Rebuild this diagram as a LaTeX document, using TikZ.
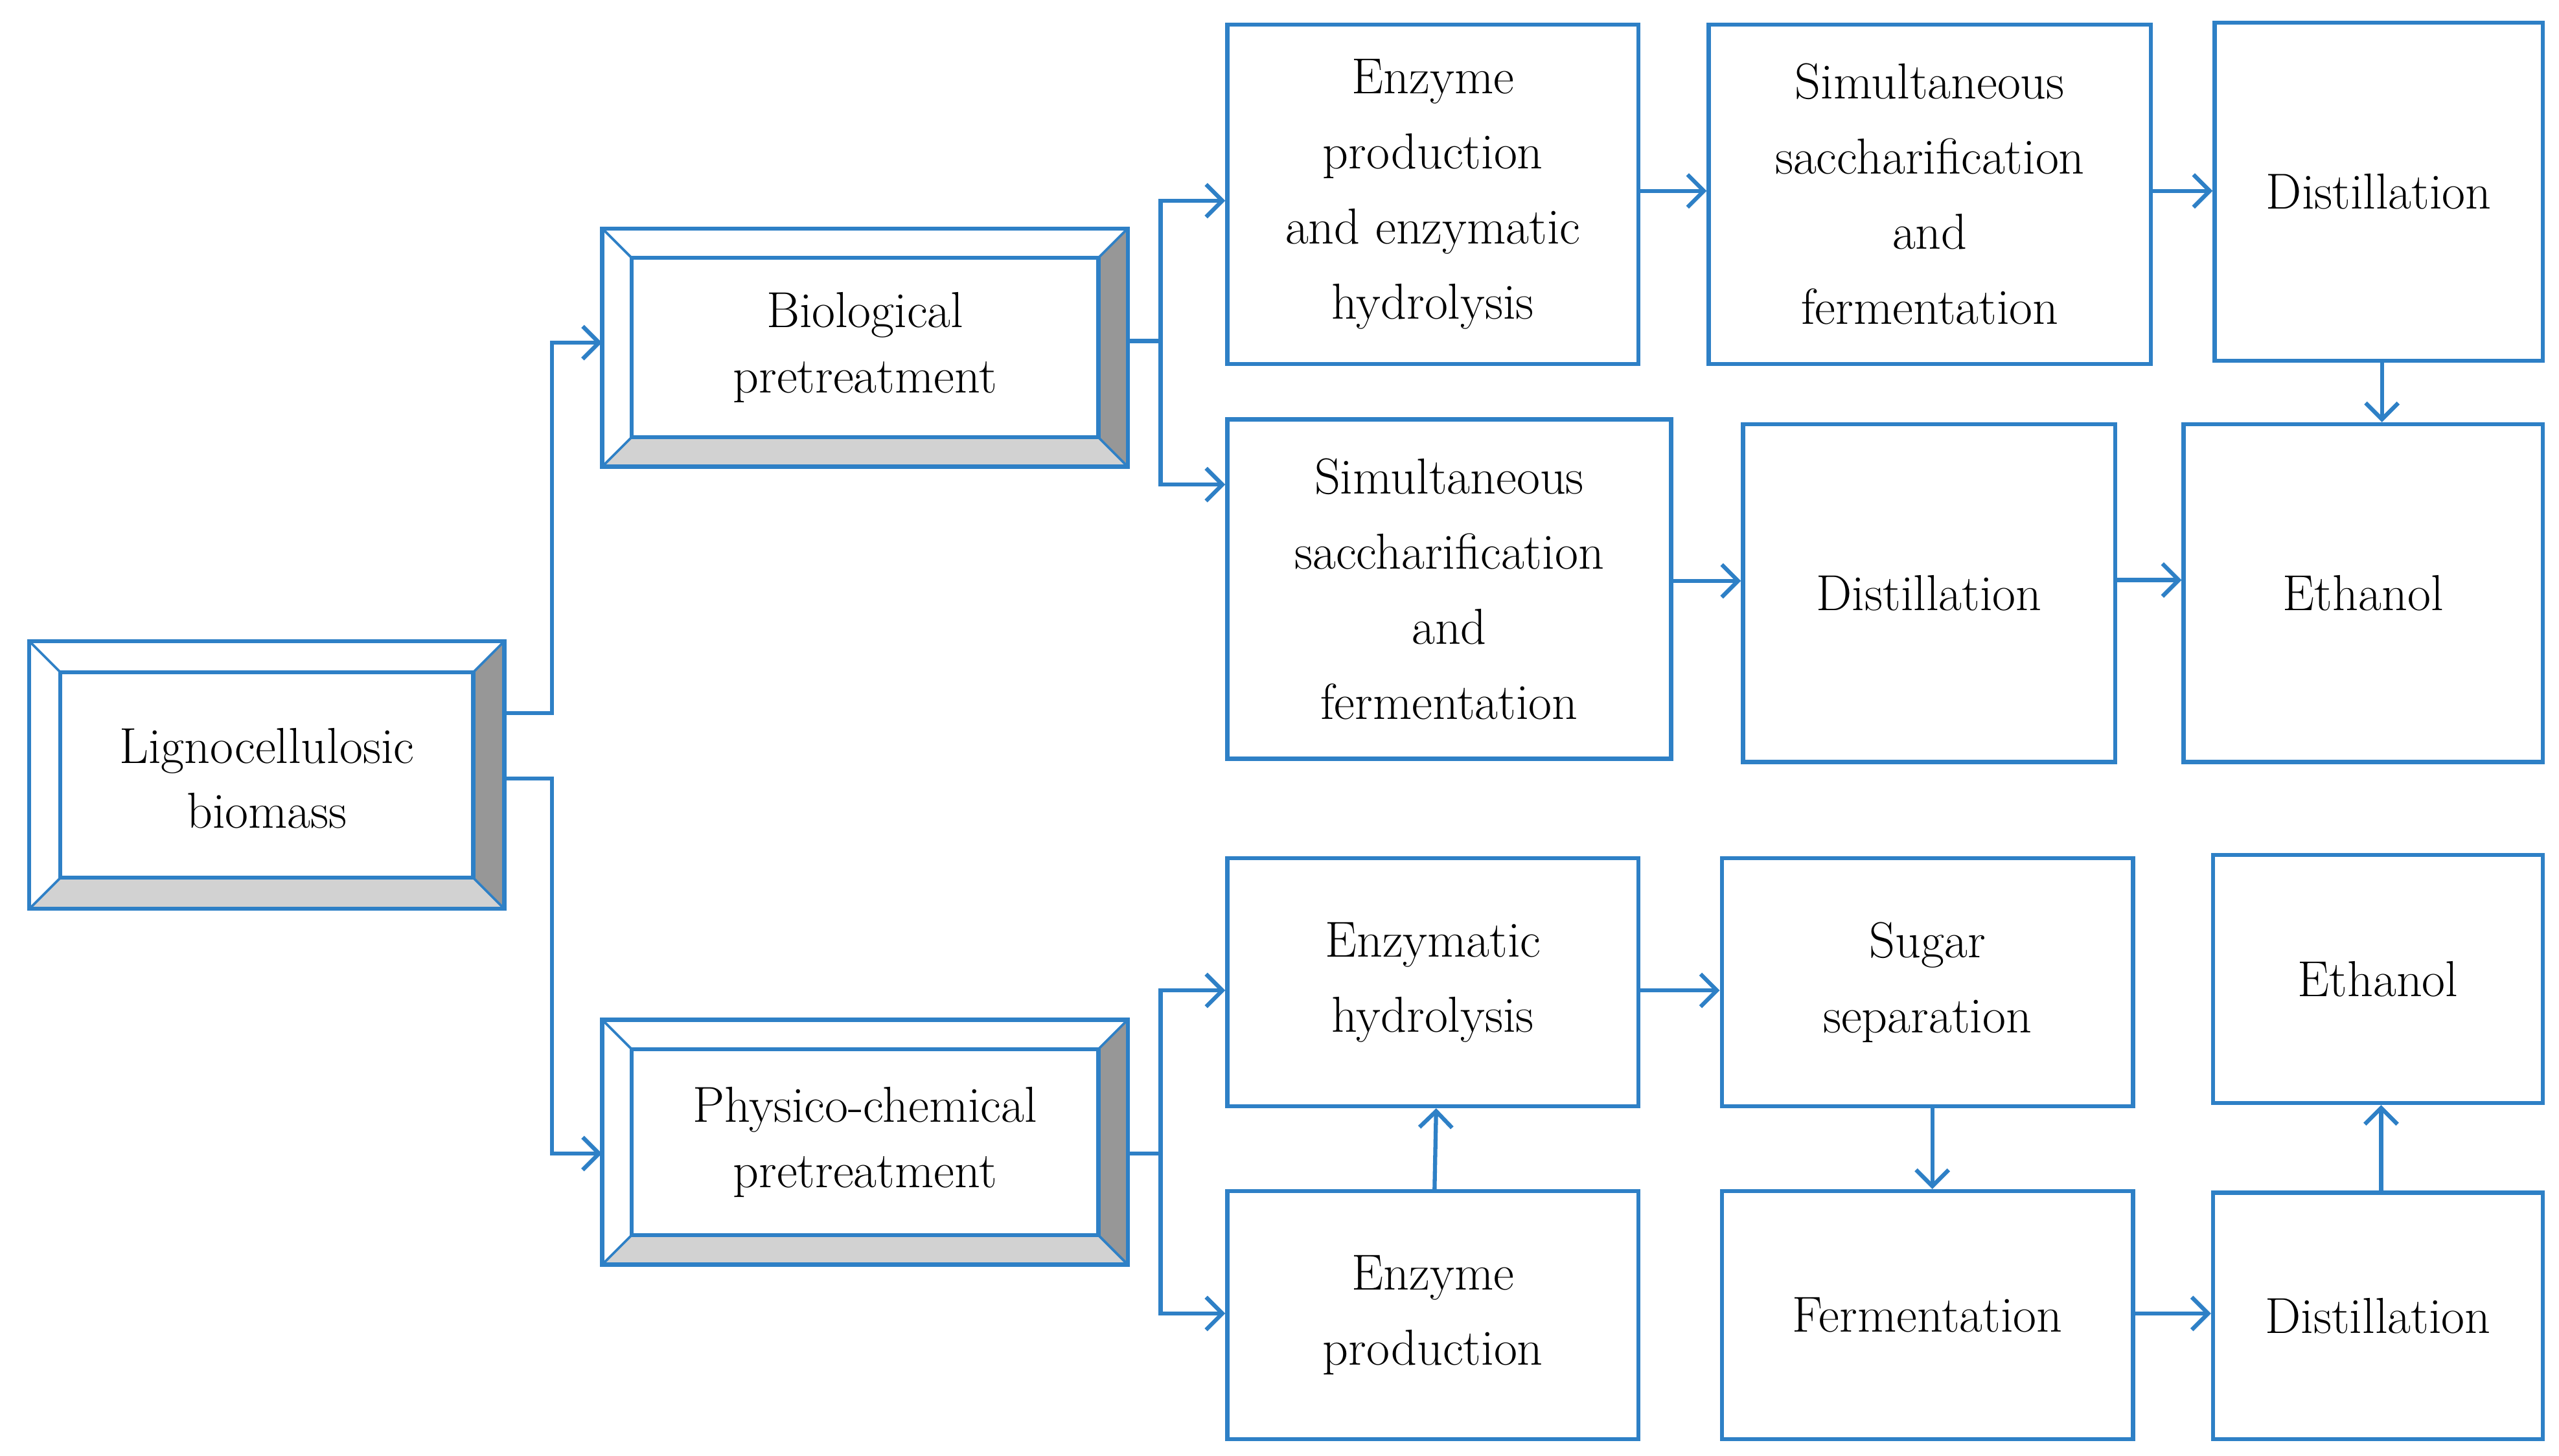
\documentclass[tikz,border=0pt]{standalone}
\usetikzlibrary{calc,arrows.meta}
\definecolor{bl}{HTML}{2E80C6}
\definecolor{dg}{HTML}{979797}
\definecolor{lg}{HTML}{D2D2D2}
\newcommand\bev[5]{%
 \fill[white] (#1,#2) rectangle (#3,#4);
 \fill[dg] (#3,#2) -- (#3-#5,#2+#5) -- (#3-#5,#4-#5) -- (#3,#4) -- cycle;
 \fill[lg] (#1,#4) -- (#1+#5,#4-#5) -- (#3-#5,#4-#5) -- (#3,#4) -- cycle;
 \draw[bl,line width=2.5pt] (#1,#2) rectangle (#3,#4);
 \draw[bl,line width=2.5pt] (#1+#5,#2+#5) rectangle (#3-#5,#4-#5);
 \draw[bl,line width=1.5pt] (#1,#2) -- (#1+#5,#2+#5) (#3,#2) -- (#3-#5,#2+#5)
   (#1,#4) -- (#1+#5,#4-#5) (#3,#4) -- (#3-#5,#4-#5);}
\tikzset{
 box/.style={draw=bl,line width=2.5pt,fill=white,align=center,inner sep=0pt,
   font=\fontsize{31}{46}\selectfont},
 bbox/.style={align=center,inner sep=0pt,font=\fontsize{31}{40}\selectfont},
 arr/.style={draw=bl,line width=2.5pt,-{Straight Barb[length=10pt,width=20pt,line width=2.5pt]}}
}
\begin{document}
\begin{tikzpicture}[x=1pt,y=-1pt]
\useasboundingbox (0,0) rectangle (1568,892);
\bev{18}{393}{309}{557}{19}
\bev{369}{140}{691}{286}{18}
\bev{369}{625}{691}{775}{18}
\node[bbox,minimum width=291pt,minimum height=164pt] (lig) at (163.5,477) {Lignocellulosic\\biomass};
\node[bbox,minimum width=322pt,minimum height=146pt] (bio) at (530,213) {Biological\\pretreatment};
\node[bbox,minimum width=322pt,minimum height=150pt] (phy) at (530,700) {Physico-chemical\\pretreatment};

\node[box,minimum width=252pt,minimum height=208pt] (e1) at (878,119) {Enzyme\\production\\and enzymatic\\hydrolysis};
\node[box,minimum width=271pt,minimum height=208pt] (s1) at (1182.5,119) {Simultaneous\\saccharification\\and\\fermentation};
\node[box,minimum width=201pt,minimum height=207pt] (d1) at (1457.5,117.5) {Distillation};
\node[box,minimum width=272pt,minimum height=208pt] (s2) at (888,361) {Simultaneous\\saccharification\\and\\fermentation};
\node[box,minimum width=228pt,minimum height=207pt] (d2) at (1182,363.5) {Distillation};
\node[box,minimum width=220pt,minimum height=207pt] (et1) at (1448,363.5) {Ethanol};
\node[box,minimum width=252pt,minimum height=152pt] (h3) at (878,602) {Enzymatic\\hydrolysis};
\node[box,minimum width=252pt,minimum height=152pt] (sg) at (1181,602) {Sugar\\separation};
\node[box,minimum width=202pt,minimum height=152pt] (et3) at (1457,600) {Ethanol};
\node[box,minimum width=252pt,minimum height=152pt] (ep) at (878,806) {Enzyme\\production};
\node[box,minimum width=252pt,minimum height=152pt] (fe) at (1181,806) {Fermentation};
\node[box,minimum width=202pt,minimum height=151pt] (d4) at (1457,806.5) {Distillation};

\draw[arr] ($(lig.east)+(0,-40)$) -- ++(29,0) |- ($(bio.west)+(0,-3)$);
\draw[arr] ($(lig.east)+(0,0)$) -- ++(29,0) |- ($(phy.west)+(0,7)$);
\draw[arr] ($(bio.east)+(0,-4)$) -- ++(20,0) |- ($(e1.west)+(0,4)$);
\draw[arr] ($(bio.east)+(0,-4)$) -- ++(20,0) |- ($(s2.west)+(0,-64)$);
\draw[arr] ($(phy.east)+(0,7)$) -- ++(20,0) |- ($(h3.west)+(0,5)$);
\draw[arr] ($(phy.east)+(0,7)$) -- ++(20,0) |- ($(ep.west)+(0,-1)$);
\draw[arr] ($(e1.east)+(0,-2)$) -- ($(e1.east -| s1.west)+(0,-2)$);
\draw[arr] ($(s1.east)+(0,-2)$) -- ($(s1.east -| d1.west)+(0,-2)$);
\draw[arr] ($(d1.south)+(2,0)$) -- ($(d1.south |- et1.north)+(2,0)$);
\draw[arr] ($(s2.east)+(0,-5)$) -- ($(s2.east -| d2.west)+(0,-5)$);
\draw[arr] ($(d2.east)+(0,-8)$) -- ($(d2.east -| et1.west)+(0,-8)$);
\draw[arr] ($(h3.east)+(0,5)$) -- ($(h3.east -| sg.west)+(0,5)$);
\draw[arr] ($(sg.south)+(3,0)$) -- ($(sg.south |- fe.north)+(3,0)$);
\draw[arr] ($(ep.north)+(1,0)$) -- ($(ep.north |- h3.south)+(2,0)$);
\draw[arr] ($(fe.east)+(0,-1)$) -- ($(fe.east -| d4.west)+(0,-1)$);
\draw[arr] ($(d4.north)+(2,0)$) -- ($(d4.north |- et3.south)+(2,0)$);
\end{tikzpicture}
\end{document}
